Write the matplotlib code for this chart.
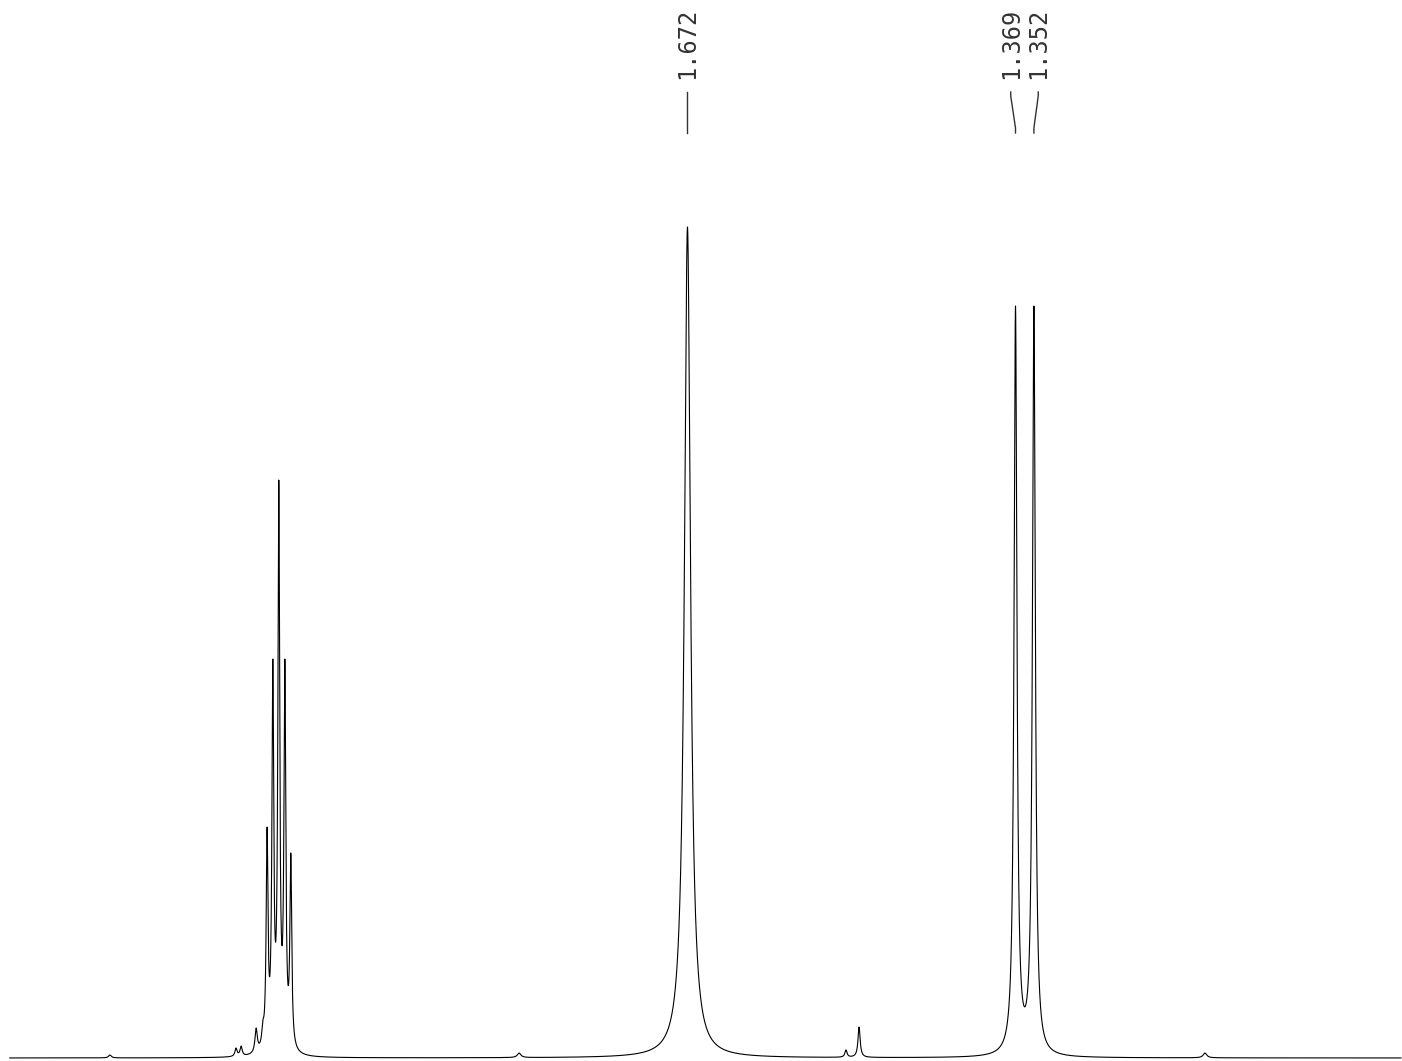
import numpy as np
import matplotlib
matplotlib.use("Agg")
import matplotlib.pyplot as plt

# peak list (ppm, height above baseline, half width in ppm)
peakPpm = [2.2055, 2.0890, 2.0843, 2.0704, 2.0642, 2.0603, 2.0550, 2.0495,
           2.0439, 2.0384, 1.8275, 1.6720, 1.5256, 1.5135, 1.3690, 1.3520,
           1.1940]
peakHeight = [3, 10, 12, 30, 38, 231, 399, 578, 399, 205, 5, 831, 8, 31,
              752, 752, 5]
peakWidth = [0.0015, 0.0012, 0.0012, 0.0013, 0.0012, 0.0010, 0.0010, 0.0010,
             0.0010, 0.0010, 0.0020, 0.0034, 0.0012, 0.0012, 0.0016, 0.0016,
             0.0020]

labelPpm = [1.672, 1.369, 1.352]
labelText = ["1.672", "1.369", "1.352"]
labelPos = [1.672, 1.3734, 1.3480]

ppmLeft, ppmRight = 2.307, 1.012
ppm = np.linspace(2.298, 1.013, 40000)


def lorentz(x, x0, g):
    return 1.0 / (1.0 + ((x - x0) / g) ** 2)


# solve amplitudes so that the summed curve reaches the read heights
pos = np.array(peakPpm)
wid = np.array(peakWidth)
mat = np.array([[lorentz(p, q, w) for q, w in zip(pos, wid)] for p in pos])
amps = np.linalg.solve(mat, np.array(peakHeight, dtype=float))

spectrum = np.zeros_like(ppm)
for a, p, w in zip(amps, pos, wid):
    spectrum += a * lorentz(ppm, p, w)

fig = plt.figure(figsize=(14.02, 10.61), dpi=100)
ax = fig.add_axes([0, 0, 1, 1])
ax.plot(ppm, spectrum, color="black", linewidth=0.8)
ax.set_xlim(ppmLeft, ppmRight)
ax.set_ylim(-3, 1058)
ax.axis("off")

# peak labels with connector lines
for p, txt, lp in zip(labelPpm, labelText, labelPos):
    ax.plot([lp, lp, p, p], [966, 962, 930, 925], color="#333333", linewidth=1.0)
    ax.text(lp, 979, txt, rotation=90, ha="center", va="bottom",
            fontsize=17, family="DejaVu Sans Mono", color="#333333")

plt.savefig("out.png", format="png", dpi=100)
